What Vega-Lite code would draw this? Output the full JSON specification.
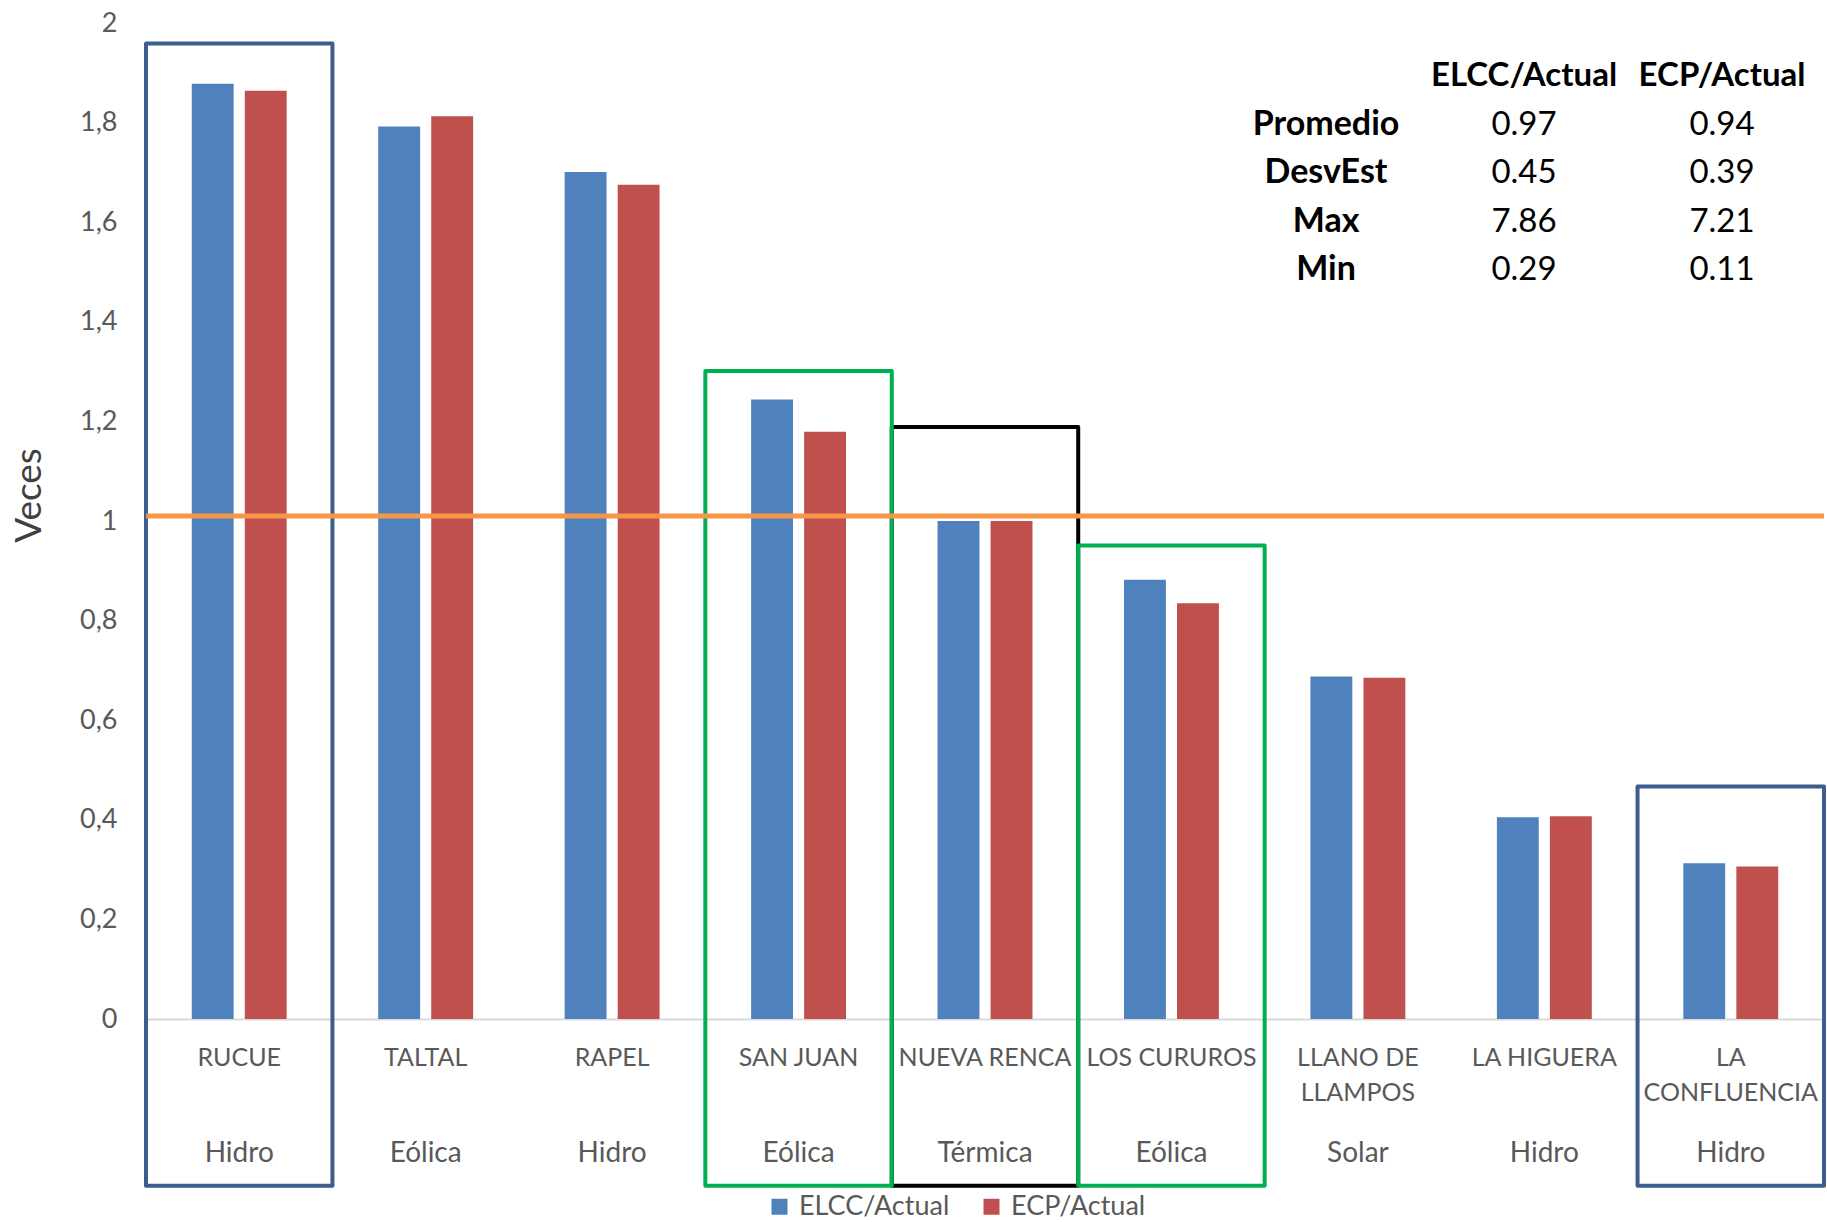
{
  "$schema": "https://vega.github.io/schema/vega-lite/v6.json",
  "width": 1678,
  "height": 996,
  "autosize": "none",
  "padding": {"left": 146, "top": 23, "right": 3, "bottom": 203},
  "background": "white",
  "config": {"font": "Lato", "view": {"stroke": null}, "axis": {"grid": false}},
  "datasets": {
    "barras": [
      {"central": "RUCUE", "serie": "ELCC/Actual", "valor": 1.878},
      {"central": "RUCUE", "serie": "ECP/Actual", "valor": 1.864},
      {"central": "TALTAL", "serie": "ELCC/Actual", "valor": 1.792},
      {"central": "TALTAL", "serie": "ECP/Actual", "valor": 1.813},
      {"central": "RAPEL", "serie": "ELCC/Actual", "valor": 1.701},
      {"central": "RAPEL", "serie": "ECP/Actual", "valor": 1.675},
      {"central": "SAN JUAN", "serie": "ELCC/Actual", "valor": 1.244},
      {"central": "SAN JUAN", "serie": "ECP/Actual", "valor": 1.179},
      {"central": "NUEVA RENCA", "serie": "ELCC/Actual", "valor": 1.0},
      {"central": "NUEVA RENCA", "serie": "ECP/Actual", "valor": 1.0},
      {"central": "LOS CURUROS", "serie": "ELCC/Actual", "valor": 0.882},
      {"central": "LOS CURUROS", "serie": "ECP/Actual", "valor": 0.835},
      {"central": "LLANO DE|LLAMPOS", "serie": "ELCC/Actual", "valor": 0.688},
      {"central": "LLANO DE|LLAMPOS", "serie": "ECP/Actual", "valor": 0.685},
      {"central": "LA HIGUERA", "serie": "ELCC/Actual", "valor": 0.405},
      {"central": "LA HIGUERA", "serie": "ECP/Actual", "valor": 0.407},
      {"central": "LA|CONFLUENCIA", "serie": "ELCC/Actual", "valor": 0.313},
      {"central": "LA|CONFLUENCIA", "serie": "ECP/Actual", "valor": 0.306}
    ],
    "centrales": [
      {"central": "RUCUE", "tipo": "Hidro"},
      {"central": "TALTAL", "tipo": "Eólica"},
      {"central": "RAPEL", "tipo": "Hidro"},
      {"central": "SAN JUAN", "tipo": "Eólica"},
      {"central": "NUEVA RENCA", "tipo": "Térmica"},
      {"central": "LOS CURUROS", "tipo": "Eólica"},
      {"central": "LLANO DE|LLAMPOS", "tipo": "Solar"},
      {"central": "LA HIGUERA", "tipo": "Hidro"},
      {"central": "LA|CONFLUENCIA", "tipo": "Hidro"}
    ],
    "recuadros": [
      {"central": "NUEVA RENCA", "tipo": "Térmica", "tope": 1.189},
      {"central": "RUCUE", "tipo": "Hidro", "tope": 1.959},
      {"central": "SAN JUAN", "tipo": "Eólica", "tope": 1.301},
      {"central": "LOS CURUROS", "tipo": "Eólica", "tope": 0.951},
      {"central": "LA|CONFLUENCIA", "tipo": "Hidro", "tope": 0.467}
    ],
    "tabla": [
      {"estadistico": "Promedio", "fila": 1, "medida": "ELCC/Actual", "columna": 1, "valor": "0.97"},
      {"estadistico": "Promedio", "fila": 1, "medida": "ECP/Actual", "columna": 2, "valor": "0.94"},
      {"estadistico": "DesvEst", "fila": 2, "medida": "ELCC/Actual", "columna": 1, "valor": "0.45"},
      {"estadistico": "DesvEst", "fila": 2, "medida": "ECP/Actual", "columna": 2, "valor": "0.39"},
      {"estadistico": "Max", "fila": 3, "medida": "ELCC/Actual", "columna": 1, "valor": "7.86"},
      {"estadistico": "Max", "fila": 3, "medida": "ECP/Actual", "columna": 2, "valor": "7.21"},
      {"estadistico": "Min", "fila": 4, "medida": "ELCC/Actual", "columna": 1, "valor": "0.29"},
      {"estadistico": "Min", "fila": 4, "medida": "ECP/Actual", "columna": 2, "valor": "0.11"}
    ]
  },
  "layer": [
    {
      "data": {"name": "recuadros"},
      "mark": {"type": "rect", "filled": false, "strokeWidth": 4, "strokeJoin": "round"},
      "encoding": {
        "x": {"field": "central", "type": "nominal", "sort": null, "scale": {"domain": ["RUCUE", "TALTAL", "RAPEL", "SAN JUAN", "NUEVA RENCA", "LOS CURUROS", "LLANO DE|LLAMPOS", "LA HIGUERA", "LA|CONFLUENCIA"], "paddingInner": 0, "paddingOuter": 0}, "axis": null},
        "y": {"field": "tope", "type": "quantitative", "scale": {"domain": [0, 2], "nice": false}, "axis": null},
        "y2": {"datum": -0.335},
        "stroke": {"field": "tipo", "type": "nominal", "scale": {"domain": ["Hidro", "Eólica", "Térmica"], "range": ["#3b5e8c", "#00b050", "#000000"]}, "legend": null}
      }
    },
    {
      "data": {"name": "barras"},
      "mark": {"type": "bar"},
      "encoding": {
        "x": {"field": "central", "type": "nominal", "sort": null,
          "scale": {"domain": ["RUCUE", "TALTAL", "RAPEL", "SAN JUAN", "NUEVA RENCA", "LOS CURUROS", "LLANO DE|LLAMPOS", "LA HIGUERA", "LA|CONFLUENCIA"], "paddingInner": 0, "paddingOuter": 0},
          "axis": {"title": null, "labelExpr": "split(datum.label, '|')", "labelAngle": 0, "labelFontSize": 25, "labelColor": "#595959", "labelLineHeight": 35, "labelPadding": 26, "ticks": false, "domainColor": "#d9d9d9", "domainWidth": 2, "labelBaseline": "top", "labelLimit": 0, "labelOverlap": false}},
        "xOffset": {"field": "serie", "type": "nominal", "sort": ["ELCC/Actual", "ECP/Actual"], "scale": {"paddingInner": 0.21, "paddingOuter": 0.863}},
        "y": {"field": "valor", "type": "quantitative", "scale": {"domain": [0, 2], "nice": false},
          "axis": {"title": "Veces", "values": [0, 0.2, 0.4, 0.6, 0.8, 1, 1.2, 1.4, 1.6, 1.8, 2], "labelExpr": "replace(format(datum.value, '~g'), '.', ',')", "labelFontSize": 27, "labelColor": "#595959", "labelPadding": 29, "ticks": false, "domain": false, "grid": false, "titleFontSize": 37, "titleColor": "#404040", "titleFontWeight": "normal", "titleX": -106, "titleY": 472, "titleBaseline": "alphabetic"}},
        "color": {"field": "serie", "type": "nominal", "sort": ["ELCC/Actual", "ECP/Actual"],
          "scale": {"domain": ["ELCC/Actual", "ECP/Actual"], "range": ["#4f81bd", "#c0504d"]},
          "legend": {"title": null, "orient": "none", "legendX": 620, "legendY": 1170, "direction": "horizontal", "symbolType": "square", "symbolSize": 256, "symbolStrokeWidth": 0, "labelFontSize": 27, "labelColor": "#595959", "labelOffset": 6, "columnPadding": 28}}
      }
    },
    {
      "data": {"values": [{"nivel": 1.01}]},
      "mark": {"type": "rule", "color": "#f79646", "strokeWidth": 5},
      "encoding": {
        "y": {"field": "nivel", "type": "quantitative", "scale": {"domain": [0, 2], "nice": false}, "axis": null}
      }
    },
    {
      "data": {"name": "centrales"},
      "mark": {"type": "text", "fontSize": 28, "color": "#595959", "baseline": "middle", "align": "center"},
      "encoding": {
        "x": {"field": "central", "type": "nominal", "sort": null, "scale": {"domain": ["RUCUE", "TALTAL", "RAPEL", "SAN JUAN", "NUEVA RENCA", "LOS CURUROS", "LLANO DE|LLAMPOS", "LA HIGUERA", "LA|CONFLUENCIA"], "paddingInner": 0, "paddingOuter": 0}, "axis": null},
        "y": {"datum": -0.272, "type": "quantitative", "scale": {"domain": [0, 2], "nice": false}, "axis": null},
        "text": {"field": "tipo"}
      }
    },
    {
      "data": {"name": "tabla"},
      "mark": {"type": "text", "fontSize": 33, "color": "#000000", "baseline": "middle", "align": "center"},
      "encoding": {
        "x": {"field": "columna", "type": "quantitative", "scale": {"domain": [-5.96, 2.515], "nice": false, "zero": false}, "axis": null},
        "y": {"field": "fila", "type": "quantitative", "scale": {"domain": [-1.093, 19.443], "nice": false, "zero": false, "reverse": true}, "axis": null},
        "text": {"field": "valor"}
      }
    },
    {
      "data": {"name": "tabla"},
      "transform": [{"filter": "datum.columna == 1"}],
      "mark": {"type": "text", "fontSize": 34, "fontWeight": "bold", "color": "#000000", "baseline": "middle", "align": "center"},
      "encoding": {
        "x": {"datum": 0, "type": "quantitative", "scale": {"domain": [-5.96, 2.515], "nice": false, "zero": false}, "axis": null},
        "y": {"field": "fila", "type": "quantitative", "scale": {"domain": [-1.093, 19.443], "nice": false, "zero": false, "reverse": true}, "axis": null},
        "text": {"field": "estadistico"}
      }
    },
    {
      "data": {"name": "tabla"},
      "transform": [{"filter": "datum.fila == 1"}],
      "mark": {"type": "text", "fontSize": 33, "fontWeight": "bold", "color": "#000000", "baseline": "middle", "align": "center"},
      "encoding": {
        "x": {"field": "columna", "type": "quantitative", "scale": {"domain": [-5.96, 2.515], "nice": false, "zero": false}, "axis": null},
        "y": {"datum": 0, "type": "quantitative", "scale": {"domain": [-1.093, 19.443], "nice": false, "zero": false, "reverse": true}, "axis": null},
        "text": {"field": "medida"}
      }
    }
  ],
  "resolve": {"scale": {"x": "independent", "y": "independent"}}
}
